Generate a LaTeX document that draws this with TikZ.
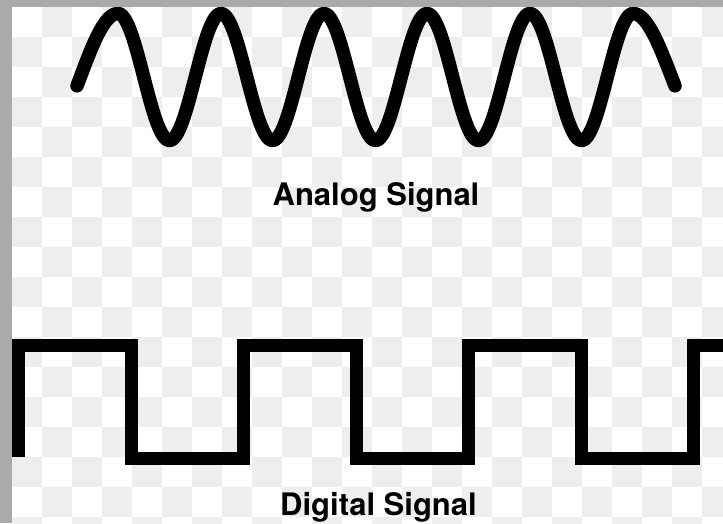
\documentclass[tikz,border=0pt]{standalone}
\usepackage{fontspec}
\setmainfont{TeX Gyre Heros}
\definecolor{bordGris}{RGB}{170,171,169}
\definecolor{damier}{RGB}{238,238,238}

\begin{document}
\begin{tikzpicture}[x=1pt,y=-1pt,
		onde/.style={line width=13.5pt, line cap=round, line join=round},
		creneau/.style={line width=13pt, line join=miter},
		etiquette/.style={anchor=base, inner sep=0pt, font=\fontsize{31}{37}\selectfont\bfseries}]
		% Dimensions de l'image (en pixels) et paramètres du signal
		\pgfmathsetmacro{\largeur}{723}
		\pgfmathsetmacro{\hauteur}{523}
		\pgfmathsetmacro{\taille}{30}     % côté d'une case du damier
		\pgfmathsetmacro{\milieu}{77}     % axe de la sinusoïde
		\pgfmathsetmacro{\amplitude}{63.5}
		\pgfmathsetmacro{\periode}{103}

		\useasboundingbox (0,0) rectangle (\largeur,\hauteur);
		\clip (0,0) rectangle (\largeur,\hauteur);

		% fond en damier
		\fill[white] (0,0) rectangle (\largeur,\hauteur);
		\foreach \i in {0,...,23}{%
			\foreach \j in {0,...,17}{%
				\pgfmathtruncatemacro{\parite}{mod(\i+\j,2)}
				\ifnum\parite=1\relax
					\fill[damier] (12+\i*\taille,7+\j*\taille) rectangle ++(\taille,\taille);
				\fi
			}
		}

		% signal analogique : sinusoïde, bouts plus doux
		\draw[onde] plot[domain=77:118,samples=25] (\x,{\milieu-\amplitude*cos(98/41*(\x-118))})
			-- plot[domain=118:633,samples=250] (\x,{\milieu-\amplitude*cos(360/\periode*(\x-118))})
			-- plot[domain=633:675,samples=25] (\x,{\milieu-\amplitude*cos(98/42*(\x-633))});
		\node[etiquette] (analogique) at (376,205) {Analog Signal};

		% signal numérique : créneaux
		\draw[creneau] (18.5,457)
			\foreach \k in {0,1,2}{ -- (18.5+225*\k,345.5) -- (131+225*\k,345.5)
				-- (131+225*\k,458.5) -- (243.5+225*\k,458.5)}
			-- (693.5,345.5) -- (740,345.5);
		\node[etiquette] (numerique) at (378.5,515) {Digital Signal};

		% bords gris (haut et gauche)
		\fill[bordGris] (0,0) rectangle (\largeur,7);
		\fill[bordGris] (0,0) rectangle (12,\hauteur);
	\end{tikzpicture}
\end{document}
